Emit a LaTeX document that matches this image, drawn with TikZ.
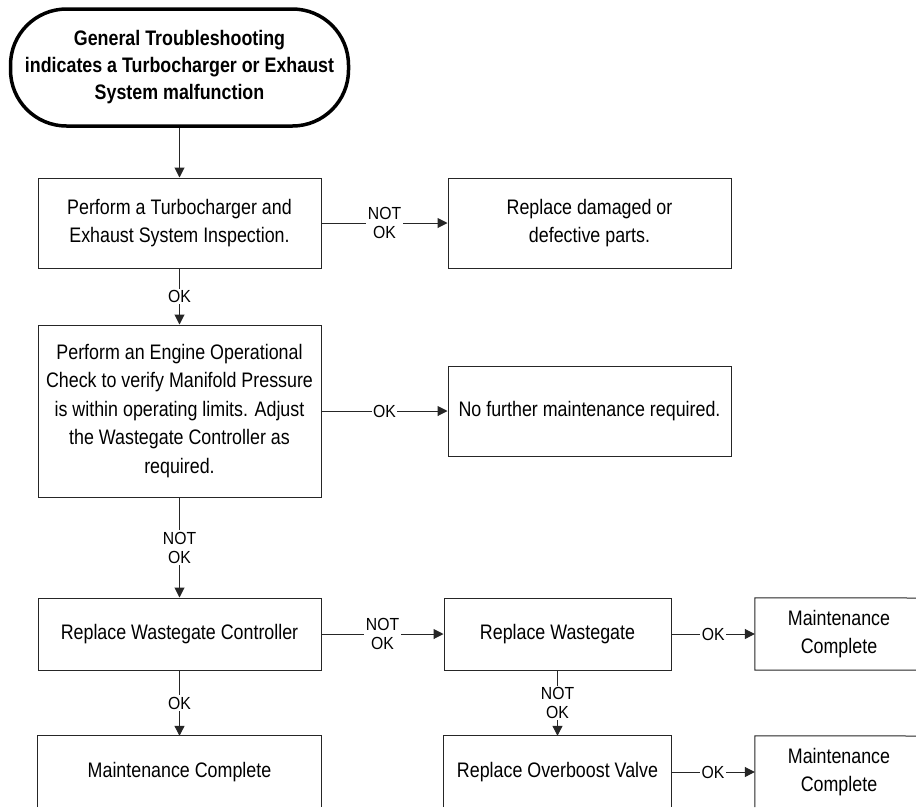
\documentclass[tikz,border=0pt]{standalone}
\usepackage{fontspec}
\setmainfont{Liberation Sans}[FakeStretch=0.85]
\newfontfamily\lblfont{Liberation Sans}[FakeStretch=0.9]
\usetikzlibrary{arrows.meta}
\tikzset{
  box/.style={draw=black!85, line width=1pt, rectangle, align=center, inner sep=0pt,
    font=\fontsize{21}{28.5}\selectfont},
  txt/.style={rectangle, align=center, inner sep=0pt, font=\fontsize{21}{28.5}\selectfont},
  term/.style={draw=black, line width=3.5pt, rectangle, rounded corners=56pt, align=center,
    inner sep=0pt, font=\bfseries\fontsize{21}{27}\selectfont},
  lbl/.style={fill=white, inner sep=1.5pt, align=center, font=\lblfont\fontsize{17.5}{19}\selectfont},
  conn/.style={draw=black!85, line width=1pt, -{Triangle[length=10pt,width=10pt]}},
  edge/.style={draw=black!85, line width=1pt},
}
\begin{document}
\begin{tikzpicture}[x=1pt,y=-1pt]
\useasboundingbox (0,0) rectangle (916,807);
\fill[white] (0,0) rectangle (916,807);

\node[term, minimum width=338pt, minimum height=117pt] (t) at (179.5,67.5)
  {General Troubleshooting\\indicates a Turbocharger or Exhaust\\System malfunction};

\node[box, minimum width=283pt, minimum height=90pt] (b1) at (179.5,223)
  {Perform a Turbocharger and\\Exhaust System Inspection.};
\node[box, minimum width=283pt, minimum height=90pt] (b2) at (589.5,223)
  {Replace damaged or\\defective parts.};
\node[box, minimum width=283pt, minimum height=172pt] (b3) at (179.5,411)
  {Perform an Engine Operational\\Check to verify Manifold Pressure\\is within operating limits. Adjust\\the Wastegate Controller as\\required.};
\node[box, minimum width=283pt, minimum height=90pt] (b4) at (589.5,411)
  {No further maintenance required.};
\node[box, minimum width=283pt, minimum height=72pt] (b5) at (179.5,634)
  {Replace Wastegate Controller};
\node[box, minimum width=227pt, minimum height=72pt] (b6) at (557.5,634)
  {Replace Wastegate};
\node[txt, minimum width=168pt, minimum height=72pt] (b7) at (839,634)
  {Maintenance\\Complete};
\draw[edge] (916,598) -- (b7.north west) -- (b7.south west) -- (916,670);
\node[txt, minimum width=283pt, minimum height=72pt] (b8) at (179.5,772)
  {Maintenance Complete};
\draw[edge] (b8.west |- 0,807) -- (b8.north west) -- (b8.north east) -- (b8.east |- 0,807);
\node[txt, minimum width=227pt, minimum height=72pt] (b9) at (557.5,772)
  {Replace Overboost Valve};
\draw[edge] (b9.west |- 0,807) -- (b9.north west) -- (b9.north east) -- (b9.east |- 0,807);
\node[txt, minimum width=168pt, minimum height=72pt] (b10) at (839,772)
  {Maintenance\\Complete};
\draw[edge] (916,736) -- (b10.north west) -- (b10.west |- 0,807);

\draw[conn] (t) -- (b1);
\draw[conn] (b1) -- node[lbl]{NOT\\OK} (b2);
\draw[conn] (b1) -- node[lbl]{OK} (b3);
\draw[conn] (b3) -- node[lbl]{OK} (b4);
\draw[conn] (b3) -- node[lbl]{NOT\\OK} (b5);
\draw[conn] (b5) -- node[lbl]{NOT\\OK} (b6);
\draw[conn] (b6) -- node[lbl]{OK} (b7);
\draw[conn] (b5) -- node[lbl]{OK} (b8);
\draw[conn] (b6) -- node[lbl]{NOT\\OK} (b9);
\draw[conn] (b9) -- node[lbl]{OK} (b10);
\end{tikzpicture}
\end{document}
